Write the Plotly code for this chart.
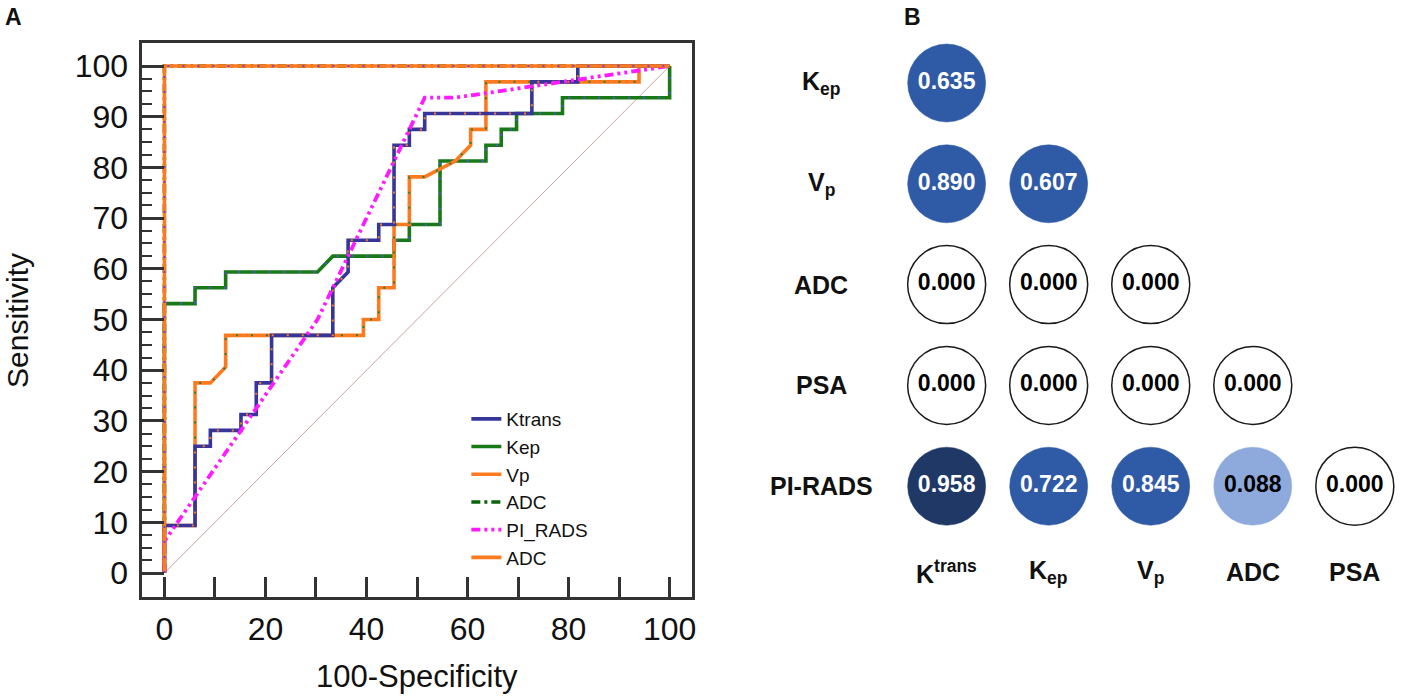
import plotly.graph_objects as go

FONT = "Liberation Sans, Arial, sans-serif"
W, H = 1418, 696

# ---------------- Panel A : ROC curves (100-Specificity, Sensitivity) ----------------
ktrans_x = [0, 0, 6.06, 6.06, 9.09, 9.09, 15.15, 15.15, 18.18, 18.18, 21.21, 21.21, 33.33, 33.33,
            36.36, 36.36, 42.42, 42.42, 45.45, 45.45, 48.48, 48.48, 51.52, 51.52, 72.73, 72.73,
            81.82, 81.82, 100]
ktrans_y = [0, 9.375, 9.375, 25, 25, 28.125, 28.125, 31.25, 31.25, 37.5, 37.5, 46.875, 46.875, 56.25,
            59.375, 65.625, 65.625, 68.75, 68.75, 84.375, 84.375, 87.5, 87.5, 90.625, 90.625, 96.875,
            96.875, 100, 100]

kep_x = [0, 0, 6.06, 6.06, 12.12, 12.12, 30.3, 33.33, 45.45, 45.45, 48.48, 48.48, 54.55, 54.55,
         63.64, 63.64, 66.67, 66.67, 69.7, 69.7, 78.79, 78.79, 100, 100]
kep_y = [0, 53.125, 53.125, 56.25, 56.25, 59.375, 59.375, 62.5, 62.5, 65.625, 65.625, 68.75, 68.75, 81.25,
         81.25, 84.375, 84.375, 87.5, 87.5, 90.625, 90.625, 93.75, 93.75, 100]

vp_x = [0, 0, 6.06, 6.06, 9.09, 12.12, 12.12, 39.39, 39.39, 42.42, 42.42, 45.45, 45.45, 48.48, 48.48,
        51.52, 57.58, 60.61, 60.61, 63.64, 63.64, 93.94, 93.94, 100]
vp_y = [0, 9.375, 9.375, 37.5, 37.5, 40.625, 46.875, 46.875, 50, 50, 56.25, 56.25, 68.75, 68.75, 78.125,
        78.125, 81.25, 84.375, 87.5, 87.5, 96.875, 96.875, 100, 100]

adc_x = [0, 0, 100]
adc_y = [0, 100, 100]

pirads_x = [0, 0, 30.3, 51.52, 57.58, 100]
pirads_y = [0, 6.25, 50, 93.75, 93.75, 100]

ref_x = [0, 100]
ref_y = [0, 100]

C_BLUE = "#35359a"
C_GREEN = "#177a17"
C_GREEN_DK = "#0b640b"
C_ORANGE = "#ff7a1f"
C_MAGENTA = "#ff1aff"

fig = go.Figure()

fig.add_trace(go.Scatter(x=ref_x, y=ref_y, mode="lines", line=dict(color="#c9a3a3", width=1),
                         showlegend=False, hoverinfo="skip"))


def curve(x, y, name, color, dash, rank, dot_color=None, width=3.6, show=True):
    fig.add_trace(go.Scatter(x=x, y=y, mode="lines", name=name, legendrank=rank, showlegend=show,
                             line=dict(color=color, width=width, dash=dash)))
    if dot_color:
        fig.add_trace(go.Scatter(x=x, y=y, mode="lines", showlegend=False, hoverinfo="skip",
                                 line=dict(color=dot_color, width=2, dash="2px,13px")))


curve(kep_x, kep_y, "Kep", C_GREEN, "solid", 2, dot_color="#5a4fd0")
curve(adc_x, adc_y, "ADC", C_GREEN_DK, "9px,4px,3px,4px", 4)
curve(vp_x, vp_y, "Vp", C_ORANGE, "solid", 3, dot_color="#2e7d32")
curve(ktrans_x, ktrans_y, "Ktrans", C_BLUE, "solid", 1, dot_color="#ff7a1f")
curve(pirads_x, pirads_y, "PI_RADS", C_MAGENTA, "9px,4px,3px,4px,3px,4px", 5, width=3.8)
curve(adc_x, adc_y, "ADC", C_ORANGE, "solid", 6, dot_color="#7a46c8")

# ---------------- Panel B : correlation bubbles ----------------
row_labels = ["K<sub>ep</sub>", "V<sub>p</sub>", "ADC", "PSA", "PI-RADS"]
col_labels = ["K<sup>trans</sup>", "K<sub>ep</sub>", "V<sub>p</sub>", "ADC", "PSA"]
corr_kep = [0.635]
corr_vp = [0.890, 0.607]
corr_adc = [0.000, 0.000, 0.000]
corr_psa = [0.000, 0.000, 0.000, 0.000]
corr_pirads = [0.958, 0.722, 0.845, 0.088, 0.000]
corr_rows = [corr_kep, corr_vp, corr_adc, corr_psa, corr_pirads]


def fill_of(v):
    if v >= 0.95:
        return "#1f3866"
    if v >= 0.5:
        return "#2f5aa5"
    if v > 0:
        return "#8eaadd"
    return "#ffffff"


bx, by, btxt, bfill, bline, blw, bfont = [], [], [], [], [], [], []
for r, vals in enumerate(corr_rows):
    for c, v in enumerate(vals):
        bx.append(c)
        by.append(r)
        btxt.append(f"{v:.3f}")
        f = fill_of(v)
        bfill.append(f)
        bline.append("#1a1a1a" if f == "#ffffff" else f)
        blw.append(1.5 if f == "#ffffff" else 0.5)
        bfont.append("#ffffff" if v >= 0.5 else "#000000")

fig.add_trace(go.Scatter(x=bx, y=by, mode="markers+text", text=btxt, textposition="middle center",
                         xaxis="x2", yaxis="y2", showlegend=False, hoverinfo="skip",
                         marker=dict(size=78, color=bfill, line=dict(color=bline, width=blw)),
                         textfont=dict(family=FONT, size=23, color=bfont, weight="bold")))

# ---------------- Layout ----------------
# Panel A frame in pixels
fl, fr, ft, fb = 143, 694, 43, 597
x0px, y0px, ppu = 165, 573, 5.07
xr = [-(x0px - fl) / ppu, (fr - x0px) / ppu]
yr = [-(fb - y0px) / ppu, (y0px - ft) / ppu]

axis_common = dict(showline=True, linewidth=3, linecolor="#333333", mirror=True, showgrid=False,
                   zeroline=False, ticks="inside", tickwidth=2.5, tickcolor="#333333",
                   tickfont=dict(family=FONT, size=32, color="#111111"))

fig.update_layout(
    width=W, height=H, autosize=False,
    margin=dict(l=0, r=0, t=0, b=0),
    paper_bgcolor="white", plot_bgcolor="white",
    font=dict(family=FONT, color="#111111"),
    xaxis=dict(domain=[fl / W, fr / W], range=xr, tickmode="linear", tick0=0, dtick=20, ticklen=20,
               ticklabelstandoff=2, anchor="y",
               minor=dict(ticks="inside", ticklen=20, tickwidth=2.5, tickcolor="#333333",
                          tickmode="linear", tick0=0, dtick=10),
               **axis_common),
    yaxis=dict(domain=[(H - fb) / H, (H - ft) / H], range=yr, tickmode="linear", tick0=0, dtick=10,
               ticklen=22, ticklabelstandoff=5, anchor="x",
               minor=dict(ticks="inside", ticklen=10, tickwidth=2, tickcolor="#333333",
                          tickmode="array",
                          tickvals=[v + d for v in range(0, 100, 10) for d in (2.5, 5, 7.5)]),
               **axis_common),
    legend=dict(x=468 / W, y=(H - 400) / H, xanchor="left", yanchor="top", bgcolor="rgba(0,0,0,0)",
                font=dict(family=FONT, size=19, color="#111111"), itemwidth=30, tracegroupgap=0),
)

# Panel B axes (hidden), columns centered at 950 + 102.4*i px, rows at 83 + 100.8*j px
cx0, cdx = 950, 102.4
ry0, rdy = 83, 100.8
bl, br, bt, bb = 850, 1418, 20, 640
fig.update_layout(
    xaxis2=dict(domain=[bl / W, br / W], range=[(bl - cx0) / cdx, (br - cx0) / cdx], visible=False,
                anchor="y2"),
    yaxis2=dict(domain=[(H - bb) / H, (H - bt) / H], range=[(bb - ry0) / rdy, (bt - ry0) / rdy],
                visible=False, anchor="x2"),
)

ann = []
for j, lab in enumerate(row_labels):
    ann.append(dict(x=824 / W, xref="paper", y=j, yref="y2", text=lab, showarrow=False,
                    xanchor="center", yanchor="middle",
                    font=dict(family=FONT, size=25, color="#111111", weight="bold")))
for i, lab in enumerate(col_labels):
    ann.append(dict(x=i, xref="x2", y=(H - 572) / H, yref="paper", text=lab, showarrow=False,
                    xanchor="center", yanchor="middle",
                    font=dict(family=FONT, size=25, color="#111111", weight="bold")))

ann.append(dict(x=17 / W, y=(H - 320) / H, xref="paper", yref="paper", text="Sensitivity",
                textangle=-90, showarrow=False, xanchor="center", yanchor="middle",
                font=dict(family=FONT, size=30, color="#111111")))
ann.append(dict(x=418 / W, y=(H - 676) / H, xref="paper", yref="paper", text="100-Specificity",
                showarrow=False, xanchor="center", yanchor="middle",
                font=dict(family=FONT, size=31, color="#111111")))
ann.append(dict(x=3 / W, y=(H - 17) / H, xref="paper", yref="paper", text="A", showarrow=False,
                xanchor="left", yanchor="middle",
                font=dict(family=FONT, size=23, color="#111111", weight="bold")))
ann.append(dict(x=905 / W, y=(H - 17) / H, xref="paper", yref="paper", text="B", showarrow=False,
                xanchor="left", yanchor="middle",
                font=dict(family=FONT, size=23, color="#111111", weight="bold")))
fig.update_layout(annotations=ann)

fig.write_html("out.html", config={"displayModeBar": False},
               post_script="document.body.style.margin='0px';")
